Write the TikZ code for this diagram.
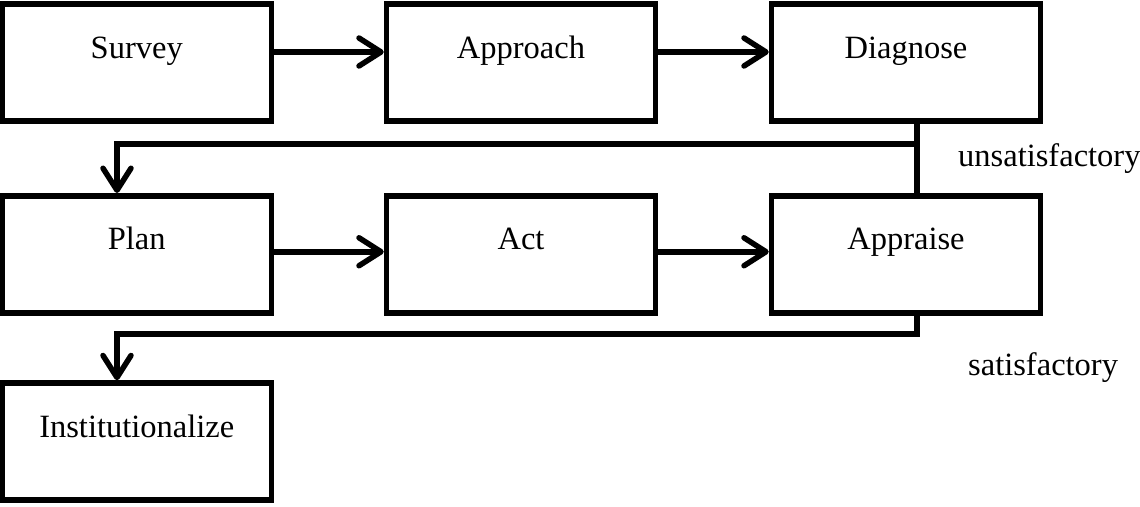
\documentclass[tikz,border=0pt]{standalone}
\usepackage{fontspec}
\setmainfont{Liberation Serif}
\usetikzlibrary{arrows.meta}
\begin{document}
\begin{tikzpicture}[x=1pt,y=-1pt,
  box/.style={draw=black,line width=5.5pt,rectangle,minimum width=269pt,minimum height=117pt,inner sep=0pt,
    text height=22pt,text depth=31pt,font=\fontsize{32.5}{38}\selectfont},
  conn/.style={line width=5.5pt,line join=miter},
  arr/.style={conn,-{Straight Barb[length=22pt,width=28pt,line cap=round,line join=round]}},
  lbl/.style={anchor=base west,inner sep=0pt,font=\fontsize{32.5}{38}\selectfont}]
\useasboundingbox (0,0) rectangle (1140,506);
\node[box] (sv) at (136.75,62.5) {Survey};
\node[box] (ap) at (521,62.5) {Approach};
\node[box] (dg) at (906,62.5) {Diagnose};
\node[box] (pl) at (136.75,254.25) {Plan};
\node[box] (ac) at (521,254.25) {Act};
\node[box] (as) at (906,254.25) {Appraise};
\node[box] (in) at (136.75,441.5) {Institutionalize};
\coordinate (k1) at (917,144);
\coordinate (k2) at (117,144);
\coordinate (k3) at (917,334);
\coordinate (k4) at (117,334);
\draw[arr] ([yshift=10.5pt]sv.east) -- ([yshift=10.5pt]ap.west);
\draw[arr] ([yshift=10.5pt]ap.east) -- ([yshift=10.5pt]dg.west);
\draw[arr] ([yshift=2.5pt]pl.east) -- ([yshift=2.5pt]ac.west);
\draw[arr] ([yshift=2.5pt]ac.east) -- ([yshift=2.5pt]as.west);
\draw[conn] (dg.south -| k1) -- (as.north -| k1);
\draw[arr] (k1) -- (k2) -- (pl.north -| k2);
\draw[arr] (as.south -| k3) -- (k3) -- (k4) -- (in.north -| k4);
\node[lbl] (us) at (958,166) {unsatisfactory};
\node[lbl] (st) at (968,375) {satisfactory};
\end{tikzpicture}
\end{document}
